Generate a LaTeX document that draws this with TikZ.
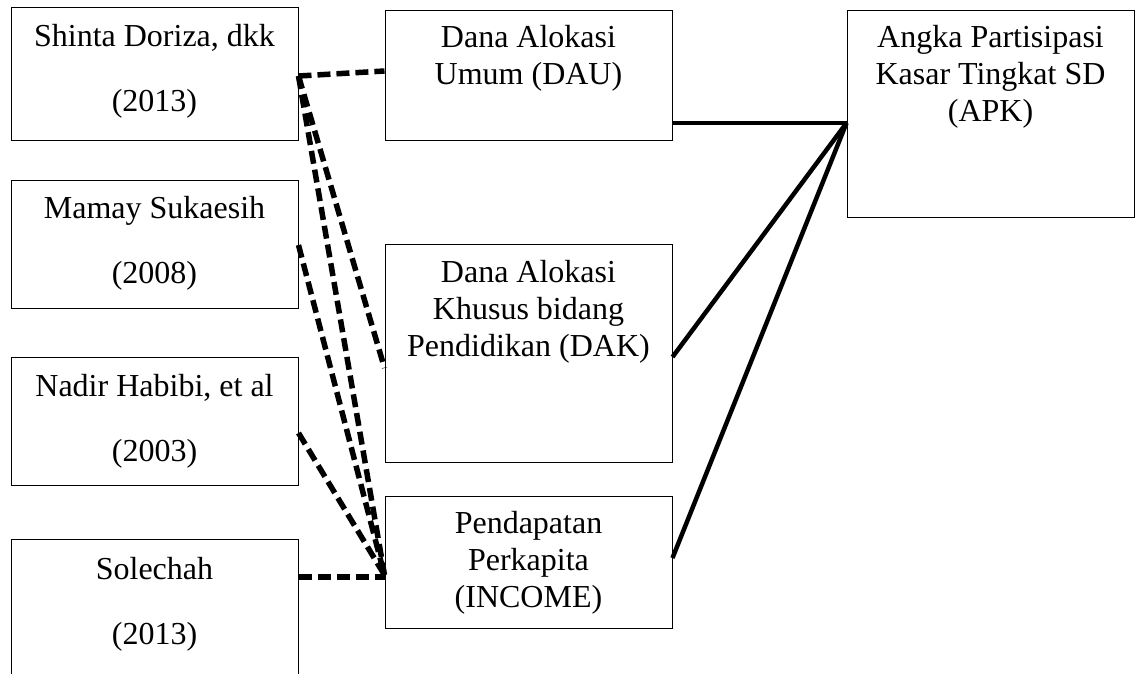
\documentclass[tikz,border=0pt]{standalone}
\usepackage{fontspec}
\setmainfont{Liberation Serif}
\usetikzlibrary{positioning}

\begin{document}
\begin{tikzpicture}[x=1pt, y=-1pt,
		box/.style={draw, line width=1pt, inner sep=0pt, minimum width=287pt},
		reftext/.style={align=center, inner sep=0pt, anchor=north, font=\fontsize{32}{65}\selectfont},
		vartext/.style={align=center, inner sep=0pt, anchor=north, font=\fontsize{32}{37}\selectfont},
		lit/.style={line width=5.5pt, dash pattern=on 13pt off 6pt},
		rel/.style={line width=4.5pt}]
	\useasboundingbox (0,0) rectangle (1141,673);
	% studi terdahulu
	\node[box, minimum height=133pt] (s1) at (154.5, 73.5) {};
	\node[box, minimum height=128pt] (s2) at (154.5, 244) {};
	\node[box, minimum height=128pt] (s3) at (154.5, 421) {};
	\node[box, minimum height=161pt] (s4) at (154.5, 619.5) {};
	\node[reftext, below=18pt of s1.north] (s1t) {Shinta Doriza, dkk\\(2013)};
	\node[reftext, below=17pt of s2.north] (s2t) {Mamay Sukaesih\\(2008)};
	\node[reftext, below=18pt of s3.north] (s3t) {Nadir Habibi, et al\\(2003)};
	\node[reftext, below=19pt of s4.north] (s4t) {Solechah\\(2013)};
	% variabel
	\node[box, minimum height=130pt] (dau) at (528.5, 75) {};
	\node[box, minimum height=218pt] (dak) at (528.5, 353) {};
	\node[box, minimum height=132pt] (inc) at (528.5, 562) {};
	\node[box, minimum height=207pt] (apk) at (990.5, 113.5) {};
	\node[vartext, below=16pt of dau.north] (daut) {Dana Alokasi\\Umum (DAU)};
	\node[vartext, below=17pt of dak.north] (dakt) {Dana Alokasi\\Khusus bidang\\Pendidikan (DAK)};
	\node[vartext, below=16pt of inc.north] (inct) {Pendapatan\\Perkapita\\(INCOME)};
	\node[vartext, below=16pt of apk.north] (apkt) {Angka Partisipasi\\Kasar Tingkat SD\\(APK)};
	\coordinate (incin) at ([yshift=-13pt]inc.west);
	\coordinate (apkin) at ([yshift=-9.5pt]apk.west);
	% garis putus-putus
	\draw[lit] ([yshift=-2.5pt]s1.east) -- ([yshift=4pt]dau.west);
	\draw[lit] ([yshift=-2.5pt]s1.east) -- ([yshift=-15pt]dak.west);
	\draw[lit] ([yshift=-2.5pt]s1.east) -- (incin);
	\draw[lit] ([yshift=-1pt]s2.east) -- (incin);
	\draw[lit] ([yshift=-12pt]s3.east) -- (incin);
	\draw[lit] ([yshift=42.5pt]s4.east) -- ([yshift=-15pt]inc.west);
	% garis hubungan
	\draw[rel] ([yshift=-48pt]dau.east) -- (apkin);
	\draw[rel] ([yshift=-4pt]dak.east) -- (apkin);
	\draw[rel] ([yshift=4pt]inc.east) -- (apkin);
\end{tikzpicture}
\end{document}
